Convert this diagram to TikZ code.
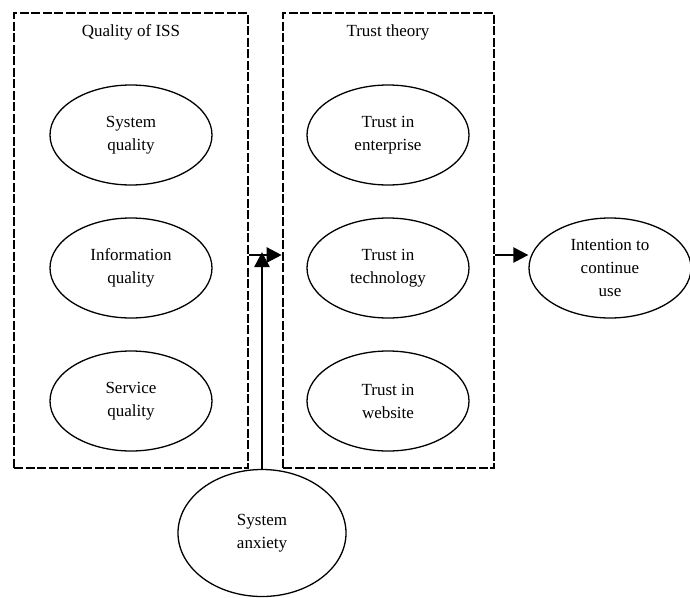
\documentclass[tikz,border=0pt]{standalone}
\usepackage{fontspec}
\setmainfont{Liberation Serif}
\usetikzlibrary{arrows.meta,shapes.geometric}
\begin{document}
\begin{tikzpicture}[x=1pt,y=-1pt,
  grp/.style={draw, line width=2.6pt, dash pattern=on 9pt off 2.5pt},
  oval/.style={draw, line width=1.3pt, ellipse, minimum width=162pt, minimum height=100pt, align=center, inner sep=0pt, font=\fontsize{17}{23}\selectfont},
  lbl/.style={font=\fontsize{17}{23}\selectfont},
  conn/.style={line width=2.4pt, -{Triangle[length=15pt,width=15pt]}}]
\useasboundingbox (0,0) rectangle (690,597);
\node[grp, draw, minimum width=234pt, minimum height=455pt, inner sep=0pt] (left) at (131,240.5) {};
\node[grp, draw, minimum width=211pt, minimum height=455pt, inner sep=0pt] (right) at (388.5,240.5) {};
\node[lbl] (t1) at (131,32) {Quality of ISS};
\node[lbl] (t2) at (388,32) {Trust theory};
\node[oval] (sq) at (131,135) {System\\quality};
\node[oval] (iq) at (131,268) {Information\\quality};
\node[oval] (svq) at (131,401) {Service\\quality};
\node[oval] (te) at (388,135) {Trust in\\enterprise};
\node[oval] (tt) at (388,268) {Trust in\\technology};
\node[oval] (tw) at (388,401) {Trust in\\website};
\node[oval] (ic) at (610,268) {Intention to\\continue\\use};
\node[oval, minimum width=168pt, minimum height=127pt] (sa) at (262,533) {System\\anxiety};
\coordinate (j) at (262,255);
\draw[conn] (left.east |- j) -- (right.west |- j);
\draw[conn] (sa.north) -- ([yshift=3pt]j);
\draw[conn] (right.east |- j) -- (ic.west |- j);
\end{tikzpicture}
\end{document}
